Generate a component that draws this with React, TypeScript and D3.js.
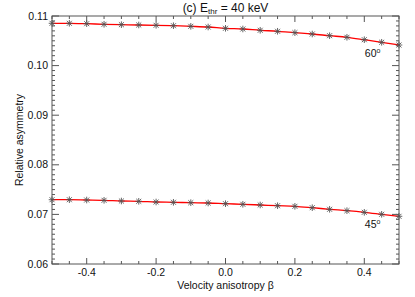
import React from 'react';
import * as d3 from 'd3';

// velocity anisotropy beta values
const betas = [
  -0.5, -0.45, -0.4, -0.35, -0.3, -0.25, -0.2, -0.15, -0.1, -0.05, 0,
  0.05, 0.1, 0.15, 0.2, 0.25, 0.3, 0.35, 0.4, 0.45, 0.5,
];

// relative asymmetry at 60 degrees
const asym60 = [
  0.10853, 0.10853, 0.10845, 0.10833, 0.10825, 0.10819, 0.10813, 0.10804, 0.10792, 0.10778, 0.10752,
  0.10738, 0.10712, 0.10692, 0.10664, 0.10637, 0.10603, 0.10571, 0.10522, 0.1047, 0.10415,
];

// relative asymmetry at 45 degrees
const asym45 = [
  0.07296, 0.07296, 0.0729, 0.07284, 0.0727, 0.07264, 0.0725, 0.07244, 0.07236, 0.0723, 0.07216,
  0.07204, 0.0719, 0.07175, 0.07163, 0.07135, 0.07103, 0.07075, 0.07042, 0.07002, 0.06962,
];

const xTicks = [-0.4, -0.2, 0.0, 0.2, 0.4];
const yTicks = [0.06, 0.07, 0.08, 0.09, 0.1, 0.11];
const curveLabels = [
  { name: '60', series: asym60 },
  { name: '45', series: asym45 },
];

const W = 415;
const H = 297;
const margin = { top: 16, right: 16, bottom: 33, left: 52 };
const font = 'Liberation Sans, Arial, Helvetica, sans-serif';
const axisColor = '#555';

const App = () => {
  const x = d3.scaleLinear().domain([-0.5, 0.5]).range([margin.left, W - margin.right]);
  const y = d3.scaleLinear().domain([0.06, 0.11]).range([H - margin.bottom, margin.top]);

  const x0 = x.range()[0];
  const x1 = x.range()[1];
  const y0 = y.range()[0];
  const y1 = y.range()[1];

  const xMinor = d3.range(-0.5, 0.5001, 0.05).map((v) => +v.toFixed(2));
  const yMinor = d3.range(0.06, 0.11001, 0.001).map((v) => +v.toFixed(3));

  const line = d3
    .line<number>()
    .x((d, i) => x(betas[i]))
    .y((d) => y(d))
    .curve(d3.curveMonotoneX);

  // IDL-style asterisk marker
  const star = (cx: number, cy: number, key: string) => {
    const r = 3.3;
    const d = r * 0.75;
    return (
      <g key={key} stroke="#555" strokeWidth={0.9}>
        <line x1={cx - r} y1={cy} x2={cx + r} y2={cy} />
        <line x1={cx} y1={cy - r} x2={cx} y2={cy + r} />
        <line x1={cx - d} y1={cy - d} x2={cx + d} y2={cy + d} />
        <line x1={cx - d} y1={cy + d} x2={cx + d} y2={cy - d} />
      </g>
    );
  };

  return (
    <svg width={W} height={H} style={{ position: 'absolute', left: 0, top: 0, background: '#fff' }}>
      {/* frame */}
      <rect x={x0} y={y1} width={x1 - x0} height={y0 - y1} fill="none" stroke={axisColor} strokeWidth={1} />

      {/* x ticks, bottom and top */}
      {xMinor.map((v) => {
        const major = xTicks.some((t) => Math.abs(t - v) < 1e-6);
        const len = major ? 6 : 3;
        return (
          <g key={'xt' + v} stroke={axisColor} strokeWidth={1}>
            <line x1={x(v)} x2={x(v)} y1={y0} y2={y0 - len} />
            <line x1={x(v)} x2={x(v)} y1={y1} y2={y1 + len} />
          </g>
        );
      })}

      {/* y ticks, left and right */}
      {yMinor.map((v) => {
        const major = yTicks.some((t) => Math.abs(t - v) < 1e-6);
        const len = major ? 7 : 3;
        return (
          <g key={'yt' + v} stroke={axisColor} strokeWidth={1}>
            <line x1={x0} x2={x0 + len} y1={y(v)} y2={y(v)} />
            <line x1={x1} x2={x1 - len} y1={y(v)} y2={y(v)} />
          </g>
        );
      })}

      {/* tick labels */}
      {xTicks.map((t) => (
        <text key={'xl' + t} x={x(t)} y={y0 + 12} textAnchor="middle" fontFamily={font} fontSize={10.5} fill="#111">
          {d3.format('.1f')(t).replace('−', '-')}
        </text>
      ))}
      {yTicks.map((t) => (
        <text key={'yl' + t} x={x0 - 4} y={y(t) + 3.5} textAnchor="end" fontFamily={font} fontSize={10.5} fill="#111">
          {d3.format('.2f')(t)}
        </text>
      ))}

      {/* axis titles */}
      <text x={(x0 + x1) / 2} y={H - 8} textAnchor="middle" fontFamily={font} fontSize={10.5} fill="#111">
        Velocity anisotropy β
      </text>
      <text
        transform={`translate(23,${(y0 + y1) / 2}) rotate(-90)`}
        textAnchor="middle"
        fontFamily={font}
        fontSize={10.5}
        fill="#111"
      >
        Relative asymmetry
      </text>

      {/* title */}
      <text x={(x0 + x1) / 2} y={12} textAnchor="middle" fontFamily={font} fontSize={12} fill="#111">
        (c) E
        <tspan fontSize={8} dy={2}>thr</tspan>
        <tspan dy={-2}> = 40 keV</tspan>
      </text>

      {/* fitted curves and points */}
      {curveLabels.map((c) => (
        <g key={c.name}>
          <path d={line(c.series) || ''} fill="none" stroke="#ff0000" strokeWidth={1.3} />
          {c.series.map((v, i) => star(x(betas[i]), y(v), c.name + i))}
          <text
            x={x(0.45) - 9}
            y={y(c.series[c.series.length - 1]) + 12}
            textAnchor="middle"
            fontFamily={font}
            fontSize={10.5}
            fill="#111"
          >
            {c.name}
            <tspan fontSize={7} dy={-4}>o</tspan>
          </text>
        </g>
      ))}
    </svg>
  );
};

export default App;
